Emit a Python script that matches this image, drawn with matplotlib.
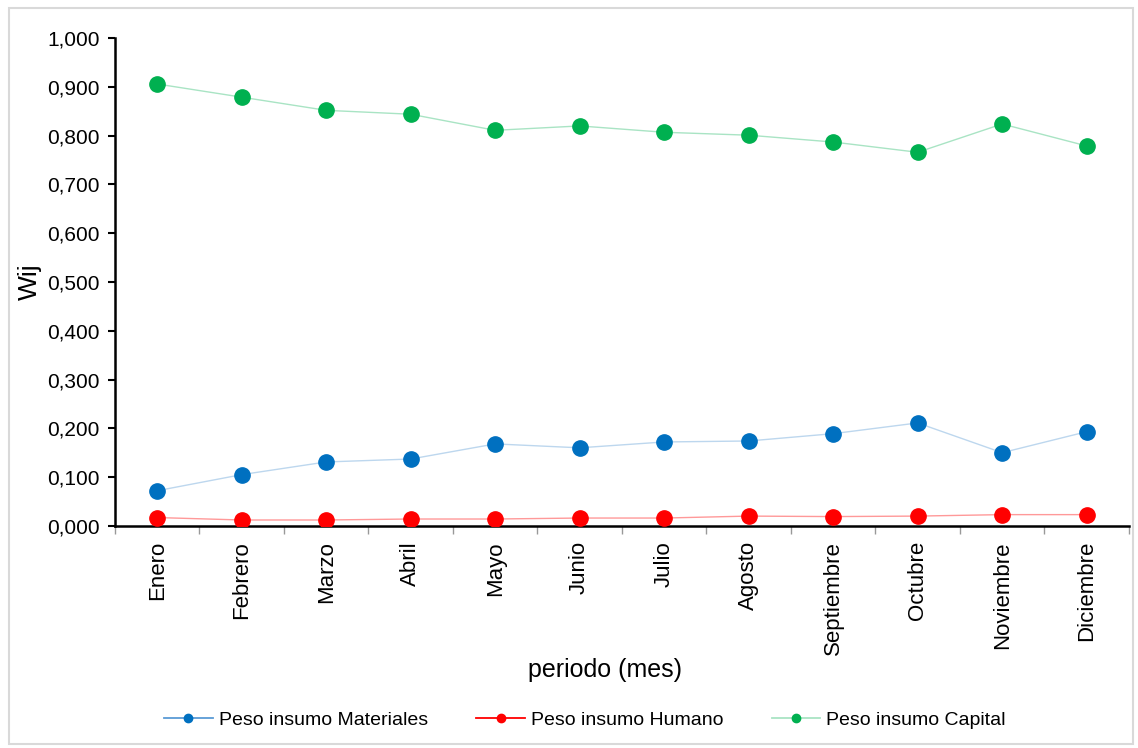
import numpy as np
import matplotlib.pyplot as plt
from matplotlib.patches import Rectangle
from matplotlib.ticker import FixedLocator, FuncFormatter

plt.rcParams['font.family'] = ['Liberation Sans', 'DejaVu Sans']

# Monthly weights
meses = ['Enero', 'Febrero', 'Marzo', 'Abril', 'Mayo', 'Junio', 'Julio',
         'Agosto', 'Septiembre', 'Octubre', 'Noviembre', 'Diciembre']
materiales = [0.072, 0.105, 0.131, 0.137, 0.168, 0.160, 0.172, 0.174,
              0.189, 0.211, 0.150, 0.193]
humano = [0.017, 0.012, 0.012, 0.014, 0.014, 0.016, 0.016, 0.020,
          0.019, 0.020, 0.023, 0.023]
capital = [0.906, 0.879, 0.852, 0.844, 0.811, 0.820, 0.807, 0.801,
           0.787, 0.766, 0.824, 0.779]

fig = plt.figure(figsize=(11.38, 7.48), dpi=100)
ax = fig.add_axes([0.101, 0.297, 0.891, 0.652])

x = np.arange(len(meses))
series = [
    (materiales, 'Peso insumo Materiales', '#0070C0', '#BDD7EE', '#5B9BD5'),
    (humano, 'Peso insumo Humano', '#FF0000', '#FF9999', '#FF0000'),
    (capital, 'Peso insumo Capital', '#00B050', '#A9E4C4', '#A9E4C4'),
]
handles = []
for vals, name, mc, lc, legc in series:
    ax.plot(x, vals, color=lc, lw=1.0, zorder=2)
    ax.plot(x, vals, 'o', color=mc, ms=11, zorder=3)
    # legend entry
    h, = ax.plot([], [], '-o', color=legc, mfc=mc, mec=mc, ms=6, lw=1.3, label=name)
    handles.append(h)

ax.set_xlim(-0.5, 11.5)
ax.set_ylim(0, 1.0)
ax.set_yticks(np.arange(0, 1.01, 0.1))
ax.yaxis.set_major_formatter(FuncFormatter(lambda v, p: f'{v:.3f}'.replace('.', ',')))
ax.set_xticks(x)
ax.set_xticklabels(meses, rotation=90)
ax.xaxis.set_minor_locator(FixedLocator(np.arange(-0.5, 12, 1)))
ax.tick_params(axis='x', which='major', length=0, labelsize=16, pad=11)
ax.tick_params(axis='x', which='minor', length=6, color='#999999', width=1)
ax.tick_params(axis='y', length=5, width=1.5, labelsize=15, direction='out', pad=6)

for s in ['top', 'right']:
    ax.spines[s].set_visible(False)
ax.spines['left'].set_linewidth(1.8)
ax.spines['bottom'].set_linewidth(1.8)

ax.set_ylabel('Wij', fontsize=19, labelpad=4)
ax.set_xlabel('periodo (mes)', fontsize=18)
ax.xaxis.set_label_coords(0.483, -0.272)

fig.legend(handles=handles, loc='center', bbox_to_anchor=(0.514, 0.037), ncol=3,
           frameon=False, fontsize=14, handlelength=2.5, columnspacing=2.5,
           handletextpad=0.3)

fig.patches.append(Rectangle((0.008, 0.006), 0.988, 0.983, transform=fig.transFigure,
                             fill=False, edgecolor='#D9D9D9', lw=1.5))

fig.savefig('out.png', dpi=100)
